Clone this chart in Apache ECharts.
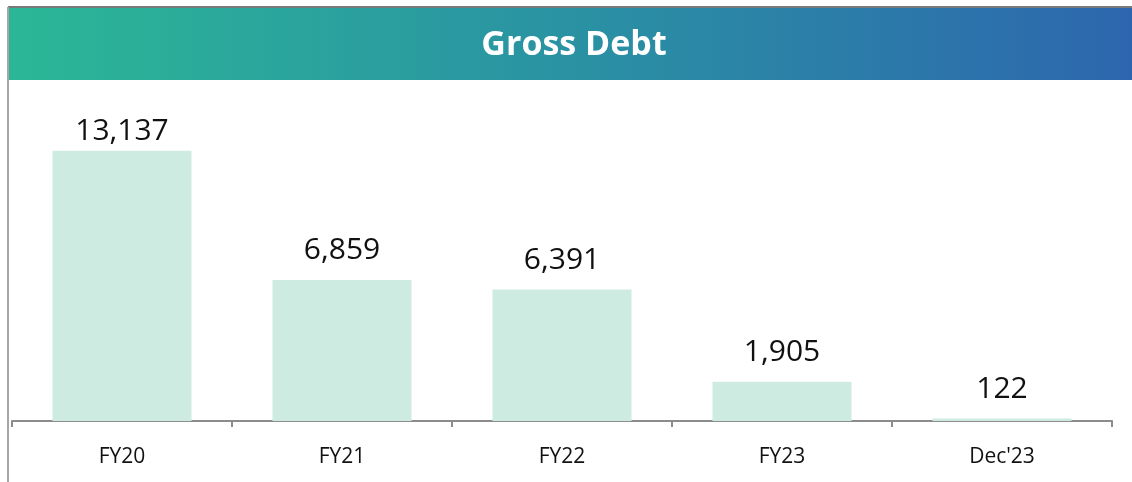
<!DOCTYPE html>
<html>
<head>
<meta charset="utf-8">
<script src="https://cdn.jsdelivr.net/npm/echarts@6/dist/echarts.min.js"></script>
<style>
html,body{margin:0;padding:0;background:#fff;}
#chart{width:1132px;height:482px;}
</style>
</head>
<body>
<div id="chart"></div>
<script>
const categories = ["FY20", "FY21", "FY22", "FY23", "Dec'23"];
const grossDebt = [13137, 6859, 6391, 1905, 122];
const titleText = "Gross Debt";

const barData = grossDebt.map((v, i) => ({value: v, label: {distance: i === 0 ? 4 : 14}}));

const chart = echarts.init(document.getElementById('chart'), null, {renderer: 'canvas'});
chart.setOption({
  animation: false,
  backgroundColor: '#ffffff',
  grid: {left: 12, right: 20, top: 133, bottom: 61, containLabel: false},
  xAxis: {
    type: 'category',
    data: categories,
    boundaryGap: true,
    axisLine: {show: true, lineStyle: {color: '#8c8c8c', width: 2}},
    axisTick: {show: true, alignWithLabel: false, length: 6, lineStyle: {color: '#8c8c8c', width: 2}},
    axisLabel: {color: '#111', fontFamily: 'Open Sans', fontSize: 21, margin: 26}
  },
  yAxis: {
    type: 'value', min: 0, max: 14000,
    show: false, splitLine: {show: false}
  },
  series: [{
    type: 'bar',
    data: barData,
    barWidth: 139,
    itemStyle: {color: '#cdebe1'},
    label: {
      show: true, position: 'top',
      color: '#111', fontFamily: 'Open Sans', fontSize: 30,
      formatter: p => p.value.toLocaleString('en-US')
    }
  }],
  graphic: [
    {type: 'rect', shape: {x: 8, y: 8, width: 1124, height: 72}, silent: true,
     style: {fill: new echarts.graphic.LinearGradient(0, 0, 1, 0, [
       {offset: 0, color: '#2bb796'}, {offset: 0.5, color: '#2a92a3'}, {offset: 1, color: '#2d66ae'}])}},
    {type: 'text', x: 574, y: 45, silent: true,
     style: {text: titleText, fill: '#ffffff', font: 'bold 34px "Open Sans"', align: 'center', verticalAlign: 'middle'}},
    {type: 'line', shape: {x1: 8, y1: 7, x2: 1132, y2: 7}, silent: true,
     style: {stroke: '#7a7a7a', lineWidth: 2}},
    {type: 'line', shape: {x1: 8, y1: 7, x2: 8, y2: 482}, silent: true,
     style: {stroke: '#a6a6a6', lineWidth: 2}}
  ]
});
</script>
</body>
</html>
